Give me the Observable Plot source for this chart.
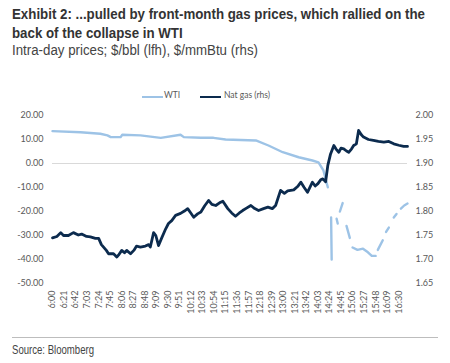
<!DOCTYPE html>
<html><head><meta charset="utf-8">
<script src="https://cdn.jsdelivr.net/npm/d3@7"></script>
<script src="https://cdn.jsdelivr.net/npm/@observablehq/plot@0.6"></script>
<style>
body{margin:0;background:#fff;width:450px;height:363px;position:relative;overflow:hidden;font-family:"Liberation Sans",Arial,sans-serif;color:#333}
.fit{position:absolute;left:12px;white-space:nowrap;transform-origin:0 0}
#title{top:4px;font-weight:bold;font-size:15px;line-height:19px;color:#333}
#sub{top:42px;font-size:14px;color:#444}
#chart{position:absolute;left:0;top:62px}
#legend{position:absolute;left:0;top:90px;font-family:Lato,sans-serif;font-size:8.5px;color:#595959}
.li{position:absolute;top:0;white-space:nowrap}
.sw{position:absolute;top:6px;height:2px}
#rule{position:absolute;left:12px;top:337px;width:426px;border-top:1px solid #bdbdbd}
#src{top:342px;font-size:13px;color:#444}
</style></head>
<body>
<div id="title" class="fit" data-w="413">Exhibit 2: ...pulled by front-month gas prices, which rallied on the<br>back of the collapse in WTI</div>
<div id="sub" class="fit" data-w="246">Intra-day prices; $/bbl (lfh), $/mmBtu (rhs)</div>
<div id="chart"></div>
<div id="legend"></div>
<div id="rule"></div>
<div id="src" class="fit" data-w="82">Source: Bloomberg</div>
<script>
// WTI, $/bbl (left axis); null = gap in the series
const wtiTimes = ["6:00","6:51","7:27","7:40","7:46","8:04","8:07","8:40","9:17","9:53","9:59","10:30","10:53","11:15","12:10","12:33","12:59","13:28","13:53","14:04","14:13","14:21","14:24","14:27","14:28","14:33","14:37","14:39","14:41","14:43","14:48","14:52","14:55","15:01","15:04","15:06","15:15","15:25","15:34","15:41","15:48","15:50","15:52","16:01","16:04","16:07","16:12","16:16","16:21","16:26","16:30","16:34","16:40","16:46"];
const wtiValues = [13.5,13.0,12.4,11.7,11.0,11.0,12.0,11.7,10.7,12.0,11.0,10.7,10.7,10.0,9.6,7.5,4.7,2.6,1.25,0.5,-2.9,-9.9,null,-22.5,-40,null,-23,-25,null,-20,-16.5,null,-26,-31,null,-35,-36,-35.5,-37,-38.5,-38.5,null,-36,-32,null,-28.5,-26.7,null,-22.5,-21,null,-18.8,-17.5,-16.7];
// Nat gas, $/mmBtu (right axis)
const gasTimes = ["6:00","6:08","6:15","6:20","6:29","6:38","6:47","6:53","7:02","7:09","7:18","7:24","7:29","7:38","7:42","7:51","7:57","8:00","8:06","8:11","8:15","8:22","8:28","8:33","8:40","8:49","8:55","8:58","9:04","9:08","9:13","9:18","9:26","9:31","9:37","9:44","9:53","10:00","10:06","10:11","10:17","10:24","10:30","10:37","10:44","10:50","10:57","11:04","11:10","11:19","11:26","11:33","11:40","11:46","11:53","12:01","12:08","12:15","12:24","12:32","12:40","12:46","12:55","13:02","13:08","13:19","13:26","13:32","13:38","13:44","13:53","13:58","14:03","14:08","14:12","14:17","14:21","14:26","14:32","14:36","14:41","14:45","14:50","14:55","14:59","15:04","15:08","15:13","15:17","15:22","15:26","15:35","15:44","15:53","16:03","16:12","16:21","16:30","16:39","16:46"];
const gasValues = [1.745,1.748,1.756,1.750,1.750,1.756,1.751,1.753,1.748,1.747,1.744,1.744,1.731,1.719,1.712,1.712,1.705,1.709,1.719,1.714,1.719,1.712,1.719,1.728,1.726,1.728,1.731,1.726,1.756,1.750,1.729,1.743,1.764,1.775,1.781,1.792,1.796,1.801,1.806,1.798,1.788,1.795,1.799,1.812,1.823,1.815,1.8125,1.818,1.8215,1.806,1.797,1.790,1.797,1.802,1.807,1.8125,1.806,1.802,1.806,1.809,1.806,1.8125,1.844,1.838,1.843,1.845,1.852,1.861,1.850,1.840,1.861,1.853,1.858,1.866,1.868,1.862,1.896,1.920,1.9375,1.930,1.9235,1.932,1.9305,1.926,1.9235,1.930,1.9375,1.941,1.969,1.960,1.955,1.950,1.948,1.946,1.9445,1.946,1.941,1.938,1.9355,1.9355];
const xTickLabels = ["6:00","6:21","6:42","7:03","7:24","7:45","8:06","8:27","8:48","9:09","9:30","9:51","10:12","10:33","10:54","11:15","11:36","11:57","12:18","12:39","13:00","13:21","13:42","14:03","14:24","14:45","15:06","15:27","15:48","16:09","16:30"];
const leftTicks = [20,10,0,-10,-20,-30,-40,-50];
const rightTicks = [2.00,1.95,1.90,1.85,1.80,1.75,1.70,1.65];
const series = [{name:"WTI",color:"#9dc3e6"},{name:"Nat gas (rhs)",color:"#0c2b4e"}];

const parse = s => { const [h,m] = s.split(":").map(Number); return h*60+m; };
const toLeft = g => (g - 1.90) * 200;   // right-axis value -> left-axis units
const fromLeft = v => v / 200 + 1.90;
const wti = wtiTimes.map((t,i)=>({t:parse(t), v:wtiValues[i]}));
const gas = gasTimes.map((t,i)=>({t:parse(t), v:toLeft(gasValues[i])}));
const tickMap = new Map(xTickLabels.map(s=>[parse(s), s]));

const chart = Plot.plot({
  width:450, height:275,
  marginTop:53, marginBottom:54, marginLeft:52, marginRight:43,
  style:{fontFamily:"Lato, sans-serif", fontSize:"9px", color:"#595959", background:"transparent"},
  x:{domain:[360,1006], axis:null},
  y:{domain:[-50,20], axis:null},
  marks:[
    Plot.ruleY([0],{stroke:"#d9d9d9", strokeWidth:1}),
    Plot.axisX({ticks:[...tickMap.keys()], tickFormat:d=>tickMap.get(d), tickRotate:-90, tickSize:0, tickPadding:7, label:null, fill:"#595959"}),
    Plot.axisY({ticks:leftTicks, tickFormat:d=>d.toFixed(2), tickSize:0, tickPadding:9, label:null, fill:"#595959"}),
    Plot.axisY({anchor:"right", ticks:rightTicks.map(toLeft), tickFormat:d=>fromLeft(d).toFixed(2), tickSize:0, tickPadding:8, label:null, fill:"#595959"}),
    Plot.line(wti,{x:"t", y:"v", stroke:series[0].color, strokeWidth:2.4, curve:"linear"}),
    Plot.line(gas,{x:"t", y:"v", stroke:series[1].color, strokeWidth:2.8, curve:"linear"})
  ]
});
document.getElementById("chart").appendChild(chart);

const leg = document.getElementById("legend");
const legPos = [{sw:142, tx:164},{sw:200, tx:224}];
series.forEach((s,i)=>{
  const sw = document.createElement("div");
  sw.className="sw"; sw.style.left=legPos[i].sw+"px"; sw.style.width="21px"; sw.style.background=s.color;
  const tx = document.createElement("div");
  tx.className="li"; tx.style.left=legPos[i].tx+"px"; tx.textContent=s.name;
  leg.appendChild(sw); leg.appendChild(tx);
});

// condense the title / subtitle / source text horizontally to the reference widths
document.querySelectorAll(".fit").forEach(el=>{
  const w = el.getBoundingClientRect().width;
  const target = +el.dataset.w;
  if (w > 0) el.style.transform = `scaleX(${target / w})`;
});
</script>
</body></html>
